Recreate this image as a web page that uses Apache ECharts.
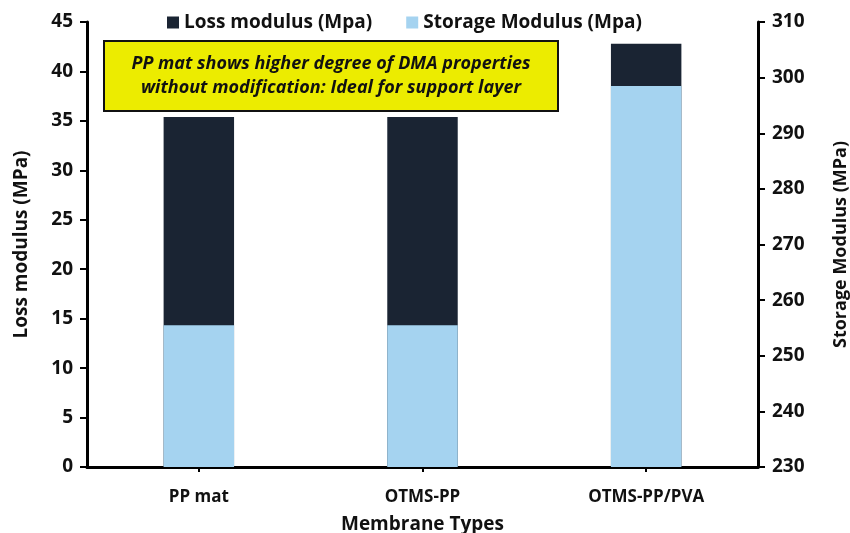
<!DOCTYPE html>
<html><head><meta charset="utf-8">
<script src="https://cdn.jsdelivr.net/npm/echarts@6/dist/echarts.min.js"></script>
<style>html,body{margin:0;padding:0;background:#fff}#c{width:850px;height:533px}</style>
</head><body><div id="c"></div>
<script>
const categories = ['PP mat', 'OTMS-PP', 'OTMS-PP/PVA'];
const lossModulus = [35.4, 35.4, 42.8];
const storageModulus = [255.5, 255.5, 298.5];
const seriesNames = ['Loss modulus (Mpa)', 'Storage Modulus (Mpa)'];
const noteLines = ['PP mat shows higher degree of DMA properties', 'without modification: Ideal for support layer'];

const FONT = 'Open Sans';
const chart = echarts.init(document.getElementById('c'));
const axisLine = {show: true, lineStyle: {color: '#000', width: 3}};
chart.setOption({
  animation: false,
  textStyle: {fontFamily: FONT},
  grid: {left: 87, right: 92, top: 22, bottom: 66, outerBoundsMode: 'none', containLabel: false},
  legend: {
    left: 162, top: 8, itemWidth: 12, itemHeight: 12, itemGap: 34, icon: 'rect',
    textStyle: {fontSize: 19, fontWeight: 'bold', color: '#111', fontFamily: FONT},
    data: seriesNames
  },
  xAxis: {
    type: 'category', data: categories,
    axisLine: axisLine,
    axisTick: {show: true, alignWithLabel: true, length: 5, lineStyle: {color: '#000', width: 2}},
    axisLabel: {fontSize: 17, fontWeight: 'bold', color: '#111', margin: 22},
    name: 'Membrane Types', nameLocation: 'middle', nameGap: 48,
    nameTextStyle: {fontSize: 19, fontWeight: 'bold', color: '#111'}
  },
  yAxis: [{
    type: 'value', min: 0, max: 45, interval: 5, position: 'left',
    axisLine: axisLine,
    axisTick: {show: true, length: 7, lineStyle: {color: '#000', width: 2}},
    splitLine: {show: false},
    axisLabel: {fontSize: 19, fontWeight: 'bold', color: '#111', margin: 14},
    name: 'Loss modulus (MPa)', nameLocation: 'middle', nameGap: 56, nameRotate: 90,
    nameTextStyle: {fontSize: 19, fontWeight: 'bold', color: '#111'}
  }, {
    type: 'value', min: 230, max: 310, interval: 10, position: 'right', startValue: 230,
    axisLine: axisLine,
    axisTick: {show: true, length: 7, lineStyle: {color: '#000', width: 2}},
    splitLine: {show: false},
    axisLabel: {fontSize: 19, fontWeight: 'bold', color: '#111', margin: 14},
    name: 'Storage Modulus (MPa)', nameLocation: 'middle', nameGap: 74, nameRotate: 90,
    nameTextStyle: {fontSize: 18, fontWeight: 'bold', color: '#111'}
  }],
  series: [{
    name: seriesNames[0], type: 'bar', yAxisIndex: 0, data: lossModulus,
    barWidth: '31.5%', barGap: '-100%', itemStyle: {color: '#1a2433'}, z: 2
  }, {
    name: seriesNames[1], type: 'bar', yAxisIndex: 1, data: storageModulus,
    barWidth: '31.5%', barGap: '-100%', itemStyle: {color: '#a5d3f0'}, z: 3
  }],
  graphic: [{
    type: 'group', left: 103, top: 40, z: 10,
    children: [{
      type: 'rect', shape: {x: 0, y: 0, width: 454, height: 70},
      style: {fill: '#ecec00', stroke: '#111', lineWidth: 2}
    }, {
      type: 'text', x: 227, y: 23,
      style: {text: noteLines[0], fontFamily: FONT, fontSize: 18, fontWeight: 'bold', fontStyle: 'italic', fill: '#111', align: 'center', verticalAlign: 'middle'}
    }, {
      type: 'text', x: 227, y: 47,
      style: {text: noteLines[1], fontFamily: FONT, fontSize: 18, fontWeight: 'bold', fontStyle: 'italic', fill: '#111', align: 'center', verticalAlign: 'middle'}
    }]
  }]
});
</script></body></html>
